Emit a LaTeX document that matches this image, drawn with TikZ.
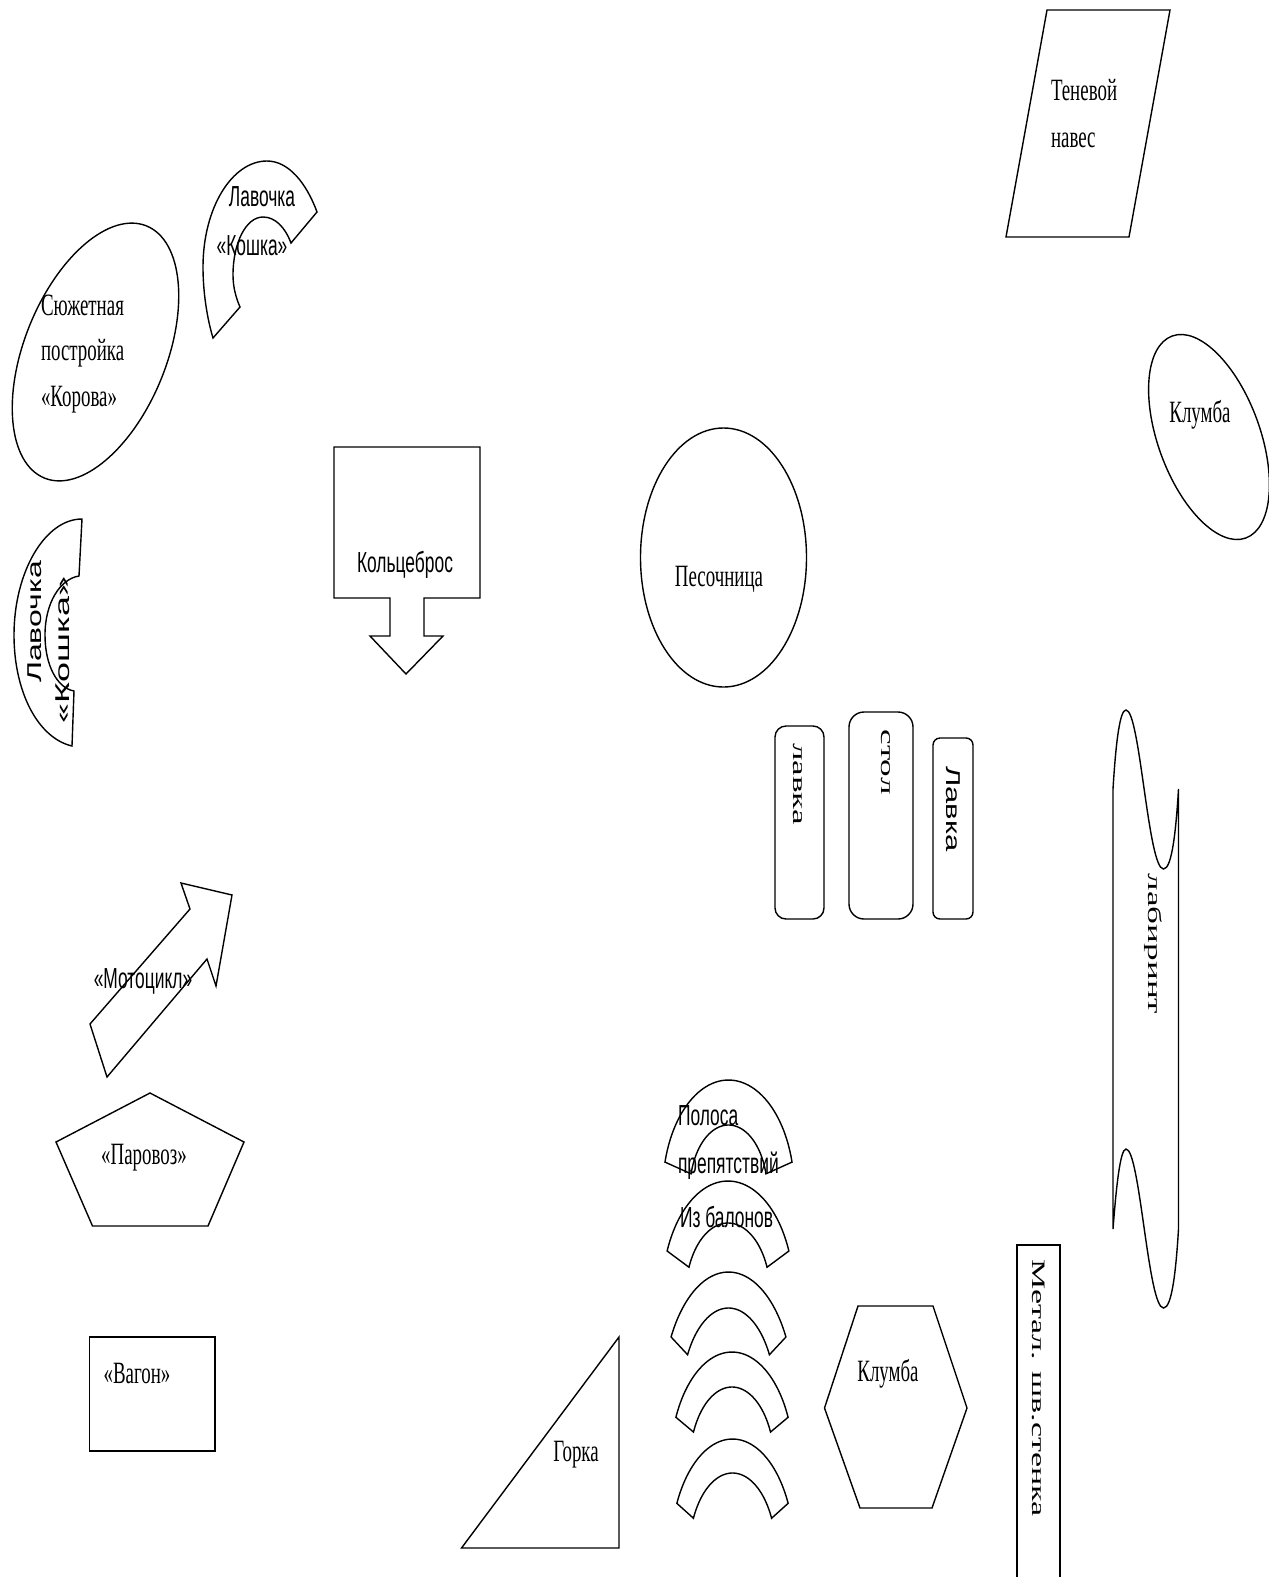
\documentclass[tikz,border=0pt]{standalone}
\usepackage{graphicx}
\usepackage{fontspec}
\setmainfont{Liberation Serif}
\setsansfont{Liberation Sans}
\newcommand{\srf}[1]{\scalebox{.61}[1]{\fontsize{31}{31}\selectfont\rmfamily #1}}
\newcommand{\sns}[1]{\scalebox{.60}[1]{\fontsize{29}{29}\selectfont\sffamily #1}}
\newcommand{\rsrf}[2][1.85]{\scalebox{#1}[1]{\fontsize{19}{19}\selectfont\rmfamily #2}}
\newcommand{\rsns}[2]{\scalebox{#1}[1]{\fontsize{20}{20}\selectfont\sffamily #2}}
% centre x, centre y, outer radii, inner radii, end angle
\newcommand{\archshape}[7]{\draw[shp] plot[domain=#7:180-#7,samples=48,smooth] ({#1+#3*cos(\x)},{#2-#4*sin(\x)}) -- plot[domain=180-#7:#7,samples=48,smooth] ({#1+#5*cos(\x)},{#2-#6*sin(\x)}) -- cycle;}
\tikzset{
  shp/.style={draw=black,line width=1.4pt,line join=miter},
  lbl/.style={inner sep=0pt,outer sep=0pt,anchor=west,text=black},
  mid/.style={inner sep=0pt,outer sep=0pt,anchor=center,text=black},
  rlbl/.style={inner sep=0pt,outer sep=0pt,anchor=center,text=black,rotate=-90},
}
\begin{document}
\begin{tikzpicture}[x=1pt,y=-1pt]
\useasboundingbox (0,0) rectangle (1269,1577);
% parallelogram
\draw[shp] (1047,10) -- (1170,10) -- (1129,237) -- (1006,237) -- cycle;
\node[lbl] (ten1) at (1051,90) {\srf{Теневой}};
\node[lbl] (ten2) at (1051,140) {\srf{навес}};
% flower ellipse
\draw[shp] (1209,437) ellipse[x radius=51,y radius=107.5,rotate=20];
\node[mid] (kl1) at (1200,415) {\srf{Клумба}};
% story ellipse
\draw[shp] (95.5,352) ellipse[x radius=71,y radius=136,rotate=-22];
\node[lbl] (s1) at (41,305) {\srf{Сюжетная}};
\node[lbl] (s2) at (41,353) {\srf{постройка}};
\node[lbl] (s3) at (41,400) {\srf{«Корова»}};
% bench cat top
\draw[shp] (213,338) .. controls (207,318) and (203,292) .. (203,267) .. controls (203,208) and (232,161) .. (267,161) .. controls (288,161) and (306,182) .. (317,212) -- (291,243) .. controls (285,227) and (275,217) .. (263,217) .. controls (246,217) and (233,243) .. (233,275) .. controls (233,287) and (236,298) .. (240,307) -- cycle;
\node[mid] (lk1) at (262,197) {\sns{Лавочка}};
\node[mid] (lk2) at (252,246) {\sns{«Кошка»}};
% bench cat bottom
\draw[shp] (82,519) .. controls (45,519) and (14,572) .. (14,635) .. controls (14,692) and (38,738) .. (72,746) -- (74,691) .. controls (57,688) and (45,665) .. (45,635) .. controls (45,603) and (60,579) .. (79,576) -- cycle;
\node[mid,rotate=90] (lb1) at (35,622) {\rsns{1.6}{Лавочка}};
\node[mid,rotate=90] (lb2) at (63,650) {\rsns{1.8}{«Кошка»}};
% kolcebros
\draw[shp] (334,447) -- (480,447) -- (480,598) -- (424,598) -- (424,636) -- (443,636) -- (406,674) -- (370,636) -- (390,636) -- (390,598) -- (334,598) -- cycle;
\node[mid] (kb) at (405,565) {\sns{Кольцеброс}};
% sandbox
\draw[shp] (723.5,557.5) ellipse[x radius=83,y radius=129.5];
\node[mid] (pes) at (719,579) {\srf{Песочница}};
% benches
\draw[shp,rounded corners=11pt] (775,726) rectangle (824,919);
\node[rlbl] (l1) at (798,784) {\rsrf{лавка}};
\draw[shp,rounded corners=15pt] (849,712) rectangle (913,919);
\node[rlbl] (st) at (886,762) {\rsrf{стол}};
\draw[shp,rounded corners=7pt] (933,738) rectangle (973,919);
\node[rlbl] (l2) at (953,809) {\rsns{1.55}{Лавка}};
% wave
\draw[shp] (1113,789) .. controls (1116,740) and (1120,710) .. (1126,710) .. controls (1140,710) and (1148,869) .. (1163.5,869) .. controls (1172,869) and (1176,830) .. (1178.5,789) -- (1178.5,1229) .. controls (1176,1270) and (1172,1308) .. (1163.5,1308) .. controls (1148,1308) and (1140,1149) .. (1126,1149) .. controls (1120,1149) and (1116,1190) .. (1113,1229) -- cycle;
\node[rlbl] (lab) at (1153,944) {\rsrf{лабиринт}};
% wall
\draw[shp] (1017,1577) -- (1017,1245) -- (1060,1245) -- (1060,1577);
\node[rlbl] (wall) at (1038.5,1388) {\rsrf[1.79]{Метал. шв.стенка}};
% hexagon
\draw[shp] (858,1306) -- (933,1306) -- (967,1408) -- (932,1508) -- (860,1508) -- (824.5,1408) -- cycle;
\node[mid] (kl2) at (888,1374) {\srf{Клумба}};
% slide
\draw[shp] (619,1337) -- (619,1548) -- (461.5,1548) -- cycle;
\node[mid] (gk) at (576,1455) {\srf{Горка}};
% wagon
\draw[shp] (89.5,1337) rectangle (215,1451);
\node[mid] (vg) at (137,1373) {\srf{«Вагон»}};
% pentagon
\draw[shp] (150,1093) -- (244,1142) -- (208,1226) -- (92.5,1226) -- (56,1142) -- cycle;
\node[mid] (pv) at (144,1158) {\srf{«Паровоз»}};
% moto arrow
\draw[shp] (232,895) -- (181,883) -- (190,909) -- (90,1024) -- (107,1077) -- (207,959) -- (216,986) -- cycle;
\node[mid] (mt) at (143,981) {\sns{«Мотоцикл»}};
% balloon arches
\archshape{728.5}{1191}{65.8}{111}{38.8}{66}{15.1}
\archshape{728}{1295}{66}{114}{42.3}{72}{22.7}
\archshape{728.5}{1400}{66}{128}{47}{92}{29.5}
\archshape{732}{1465}{61.9}{113}{42.5}{78}{25}
\archshape{732.5}{1553.5}{61.9}{114.5}{43.5}{80.5}{26}
\node[lbl] (p1) at (678,1116) {\sns{Полоса}};
\node[lbl] (p2) at (678,1166) {\sns{препятствий}};
\node[lbl] (p3) at (680,1217) {\sns{Из балонов}};
\end{tikzpicture}
\end{document}
